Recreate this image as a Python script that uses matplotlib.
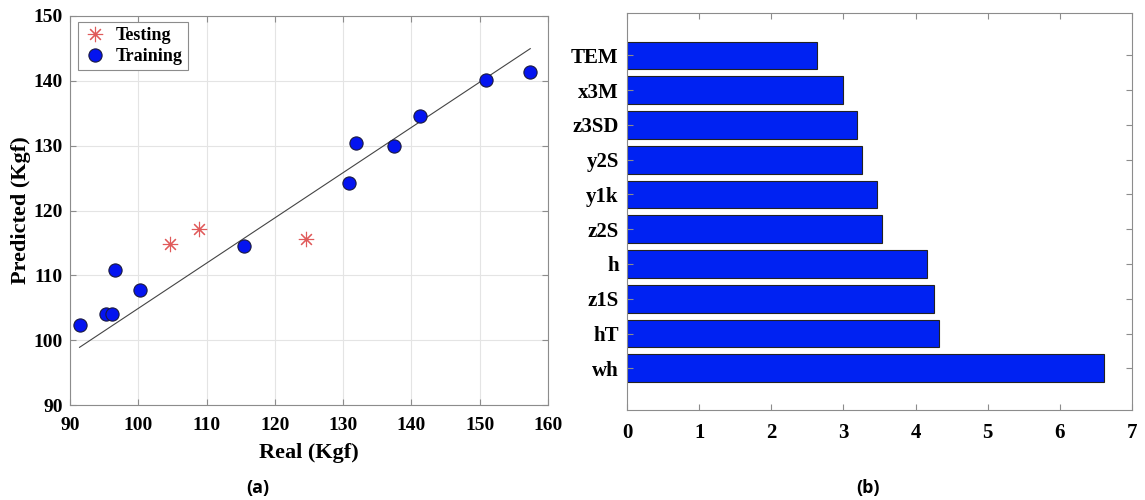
import matplotlib.pyplot as plt
import numpy as np

# (a) real vs predicted strength
train_real = [91.4, 95.3, 96.1, 96.6, 100.2, 115.5, 130.8, 131.9, 137.5, 141.3, 150.9, 157.4]
train_pred = [102.4, 104.1, 104.0, 110.8, 107.8, 114.5, 124.3, 130.4, 130.0, 134.5, 140.1, 141.4]
test_real = [104.7, 108.9, 124.5]
test_pred = [114.8, 117.1, 115.6]
fit_slope = 0.698
fit_intercept = 35.1

# (b) feature importance
features = ["wh", "hT", "z1S", "h", "z2S", "y1k", "y2S", "z3SD", "x3M", "TEM"]
importance = [6.61, 4.32, 4.26, 4.16, 3.53, 3.47, 3.26, 3.19, 2.99, 2.64]

serif = "Liberation Serif"
edge = "#8c8c8c"

fig = plt.figure(figsize=(11.45, 5.0), dpi=100)
ax1 = fig.add_axes([70 / 1145, 1 - 405 / 500, 478 / 1145, 389 / 500])
ax2 = fig.add_axes([627 / 1145, 1 - 410 / 500, 505 / 1145, 397 / 500])

# scatter panel
all_real = np.array(train_real + test_real)
xs = np.array([all_real.min(), all_real.max()])
ax1.plot(xs, fit_slope * xs + fit_intercept, color="#444444", lw=0.8, zorder=2)
ax1.plot(test_real, test_pred, linestyle="none", marker=(8, 2, 0), ms=11,
         mec="#e05a5a", mew=0.8, label="Testing", zorder=3)
ax1.plot(train_real, train_pred, linestyle="none", marker="o", ms=9.5,
         mfc="#0414f0", mec="#1a1a40", mew=0.8, label="Training", zorder=4)
ax1.set_xlim(90, 160)
ax1.set_ylim(90, 150)
ax1.set_xticks(range(90, 161, 10))
ax1.set_yticks(range(90, 151, 10))
ax1.grid(True, color="#e4e4e4", lw=0.8)
ax1.set_axisbelow(True)
ax1.set_xlabel("Real (Kgf)", family=serif, weight="bold", fontsize=16, labelpad=6)
ax1.set_ylabel("Predicted (Kgf)", family=serif, weight="bold", fontsize=16, labelpad=2)
leg = ax1.legend(loc="upper left", prop={"family": serif, "weight": "bold", "size": 13},
                 fancybox=False, edgecolor=edge, framealpha=1, handlelength=1.3,
                 handletextpad=0.5, borderpad=0.3, labelspacing=0.2,
                 borderaxespad=0, bbox_to_anchor=(8 / 478, 1 - 6 / 389))
leg.get_frame().set_linewidth(0.8)

# bar panel
pos = np.arange(1, len(features) + 1)
ax2.barh(pos, importance, height=0.8, color="#0022f2", edgecolor="#222222", lw=0.8)
ax2.set_xlim(0, 7)
ax2.set_ylim(-0.2, 11.22)
ax2.set_yticks(pos)
ax2.set_yticklabels(features)
ax2.set_xticks(range(0, 8))

for ax in (ax1, ax2):
    for s in ax.spines.values():
        s.set_color(edge)
        s.set_linewidth(0.8)
    ax.tick_params(direction="in", top=True, right=True, color=edge, length=4,
                   labelsize=14, pad=5)
    for lab in ax.get_xticklabels() + ax.get_yticklabels():
        lab.set_family(serif)
        lab.set_weight("bold")
ax1.tick_params(axis="x", pad=9)
ax2.tick_params(labelsize=15, pad=6)
ax2.tick_params(axis="x", pad=9)

fig.text(258 / 1145, 1 - 488 / 500, "(a)", family="Open Sans", weight="bold",
         fontsize=13, ha="center", va="center")
fig.text(868 / 1145, 1 - 488 / 500, "(b)", family="Open Sans", weight="bold",
         fontsize=13, ha="center", va="center")

fig.savefig("out.png", dpi=100)
